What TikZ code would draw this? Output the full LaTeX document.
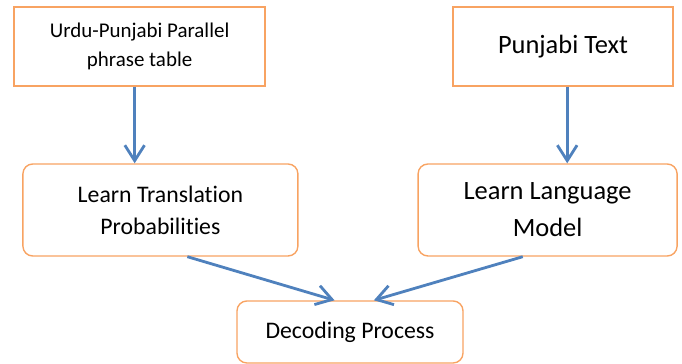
\documentclass[tikz,border=0pt]{standalone}
\usepackage{fontspec}
\setmainfont{Carlito}[Ligatures=NoCommon]
\usetikzlibrary{arrows.meta}
\definecolor{box_line}{RGB}{248,163,98}
\definecolor{flow_arrow}{RGB}{79,129,189}

\begin{document}
\begin{tikzpicture}[scale=1,
  plainbox/.style={draw=box_line, line width=1pt, align=center, inner sep=0pt},
  roundbox/.style={plainbox, rounded corners=7pt},
  flow/.style={draw=flow_arrow, line width=2pt, -{Straight Barb[length=11pt,width=14pt]}}]
\useasboundingbox (0,0) rectangle (17.05,9.1);

% sources
\node[plainbox, minimum width=6.275cm, minimum height=1.975cm,
  font=\fontsize{14.9}{21.3}\selectfont] (phrases) at (3.49,7.94)
  {Urdu-Punjabi Parallel\\phrase table};
\node[plainbox, minimum width=5.5cm, minimum height=1.975cm,
  font=\fontsize{18.8}{26}\selectfont] (corpus) at (14.075,7.94) {Punjabi Text};

% training steps
\node[roundbox, minimum width=6.875cm, minimum height=2.3cm,
  font=\fontsize{16.9}{22.8}\selectfont] (learn tm) at (4.01,3.85)
  {Learn Translation\\Probabilities};
\node[roundbox, minimum width=6.475cm, minimum height=2.3cm,
  font=\fontsize{18.8}{26.3}\selectfont] (learn lm) at (13.69,3.85)
  {Learn Language\\Model};

\node[roundbox, minimum width=5.65cm, minimum height=1.55cm,
  font=\fontsize{16.9}{22.8}\selectfont] (decoder) at (8.75,0.8) {Decoding Process};

\draw[flow] (phrases.-97) -- (phrases.-97 |- learn tm.north);
\draw[flow] (corpus.-84) -- (corpus.-84 |- learn lm.north);
\draw[flow] (learn tm.-60) -- (decoder.116);
\draw[flow] (learn lm.-118) -- (decoder.53);

\end{tikzpicture}
\end{document}
